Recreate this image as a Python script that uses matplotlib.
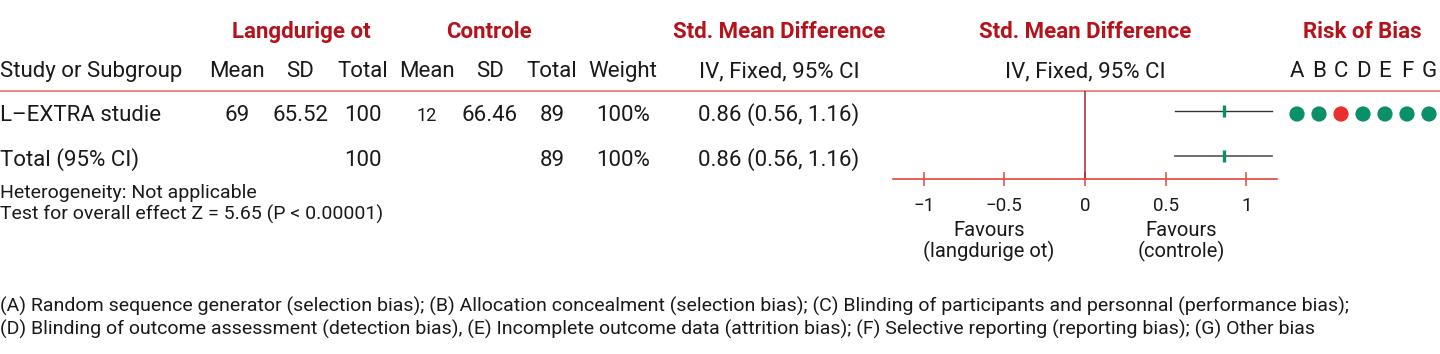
import matplotlib
matplotlib.use("Agg")
import matplotlib.pyplot as plt

plt.rcParams['font.family'] = ['Roboto', 'DejaVu Sans']

# data
group_names = ["Langdurige ot", "Controle"]
col_heads = ["Mean", "SD", "Total", "Mean", "SD", "Total", "Weight"]
studies = ["L–EXTRA studie"]
exp_mean = [69]
exp_sd = [65.52]
exp_n = [100]
ctl_mean = [12]
ctl_sd = [66.46]
ctl_n = [89]
weight = ["100%"]
smd = [0.86]
ci_lo = [0.56]
ci_hi = [1.16]
total_smd = 0.86
total_lo = 0.56
total_hi = 1.16
bias_letters = ["A", "B", "C", "D", "E", "F", "G"]
bias_rating = ["low", "low", "high", "low", "low", "low", "low"]
xticks = [-1, -0.5, 0, 0.5, 1]
xticklabels = ["−1", "−0.5", "0", "0.5", "1"]
footnote = [
    "(A) Random sequence generator (selection bias); (B) Allocation concealment (selection bias); (C) Blinding of participants and personnal (performance bias);",
    "(D) Blinding of outcome assessment (detection bias), (E) Incomplete outcome data (attrition bias); (F) Selective reporting (reporting bias); (G) Other bias",
]

RED = "#b5121b"
LINE_RED = "#e8756f"
AX_RED = "#e0463e"
GREEN = "#0a9068"
DOT_RED = "#e8312a"
TXT = "#1a1a1a"
FS = 16
FS_SMALL = 14

W, H = 1440, 354
fig = plt.figure(figsize=(W / 100, H / 100), dpi=100)
base = fig.add_axes([0, 0, 1, 1])
base.set_xlim(0, W)
base.set_ylim(H, 0)
base.axis("off")


def px_axes(x0, y0, x1, y1):
    return fig.add_axes([x0 / W, 1 - y1 / H, (x1 - x0) / W, (y1 - y0) / H])


def t(x, y, s, ha="center", **kw):
    kw.setdefault("color", TXT)
    kw.setdefault("fontsize", FS)
    base.text(x, y, s, ha=ha, va="baseline", **kw)


# headers
t(301, 38, group_names[0], color=RED, fontweight="bold")
t(489, 38, group_names[1], color=RED, fontweight="bold")
t(779, 38, "Std. Mean Difference", color=RED, fontweight="bold")
t(1085, 38, "Std. Mean Difference", color=RED, fontweight="bold")
t(1362, 38, "Risk of Bias", color=RED, fontweight="bold")

t(0, 77, "Study or Subgroup", ha="left")
col_x = [237, 300, 363, 427, 490, 552, 623]
for x, h in zip(col_x, col_heads):
    t(x, 77, h)
t(779, 77, "IV, Fixed, 95% CI")
t(1085, 77, "IV, Fixed, 95% CI")

base.plot([0, W], [91, 91], color=LINE_RED, lw=1.2)

# study rows
row_y = [121, 166]
for i, s in enumerate(studies):
    y = row_y[i]
    t(0, y, s, ha="left")
    vals = [f"{exp_mean[i]}", f"{exp_sd[i]:.2f}", f"{exp_n[i]}",
            f"{ctl_mean[i]}", f"{ctl_sd[i]:.2f}", f"{ctl_n[i]}", weight[i]]
    for x, v in zip(col_x, vals):
        t(x, y, v, fontsize=FS if x != 427 else FS - 3)
    t(779, y, f"{smd[i]:.2f} ({ci_lo[i]:.2f}, {ci_hi[i]:.2f})")

y = row_y[-1]
t(0, y, "Total (95% CI)", ha="left")
t(363, y, f"{sum(exp_n)}")
t(552, y, f"{sum(ctl_n)}")
t(623, y, "100%")
t(779, y, f"{total_smd:.2f} ({total_lo:.2f}, {total_hi:.2f})")

t(0, 198, "Heterogeneity: Not applicable", ha="left", fontsize=FS_SMALL)
t(0, 220, "Test for overall effect Z = 5.65 (P < 0.00001)", ha="left", fontsize=FS_SMALL)

for k, line in enumerate(footnote):
    t(0, 312 + 23 * k, line, ha="left", fontsize=FS_SMALL)

# forest plot
ax = px_axes(893, 91, 1277, 179)
ax.set_xlim(-1.19, 1.19)
ax.set_ylim(179, 91)
for sp in ["top", "left", "right"]:
    ax.spines[sp].set_visible(False)
ax.spines["bottom"].set_color(AX_RED)
ax.spines["bottom"].set_linewidth(1.2)
ax.set_yticks([])
ax.set_xticks(xticks)
ax.set_xticklabels(xticklabels, fontsize=13.5, color=TXT)
ax.tick_params(axis="x", direction="inout", length=10, width=1.1, color=AX_RED, pad=8)
ax.axvline(0, color="#a8282b", lw=1.1)
ax.patch.set_alpha(0)

ci_y = [111, 156]
for i in range(len(studies)):
    ax.plot([ci_lo[i], ci_hi[i]], [ci_y[i]] * 2, color="#333333", lw=1, clip_on=False)
    ax.plot([smd[i]], [ci_y[i]], marker="|", ms=9, mew=2.4, color=GREEN, clip_on=False)
ax.plot([total_lo, total_hi], [ci_y[-1]] * 2, color="#555555", lw=1.2, clip_on=False)
ax.plot([total_smd], [ci_y[-1]], marker="|", ms=9, mew=2.4, color=GREEN, clip_on=False)

t(989, 236, "Favours", fontsize=14.5)
t(989, 257, "(langdurige ot)", fontsize=14.5)
t(1181, 236, "Favours", fontsize=14.5)
t(1181, 257, "(controle)", fontsize=14.5)

# risk of bias
rb = px_axes(1286, 60, 1440, 130)
rb.set_xlim(-0.5, len(bias_letters) - 0.5)
rb.set_ylim(130, 60)
rb.axis("off")
xs = list(range(len(bias_letters)))
for x, letter in zip(xs, bias_letters):
    rb.text(x, 77, letter, ha="center", va="baseline", fontsize=FS, color=TXT)
cols = [GREEN if r == "low" else DOT_RED for r in bias_rating]
rb.scatter(xs, [114] * len(xs), s=120, c=cols, edgecolors="none", clip_on=False)

fig.savefig("out.png", dpi=100)
